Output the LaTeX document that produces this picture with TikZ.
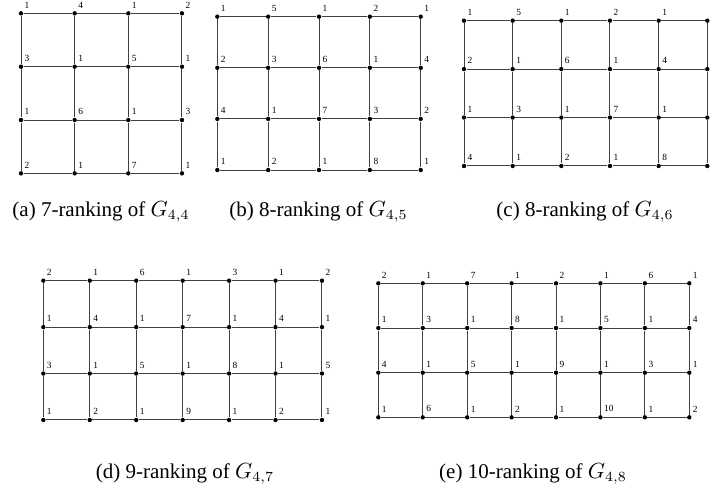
\documentclass[tikz,border=0pt]{standalone}
\usepackage{fontspec}
\setmainfont{Liberation Serif}
\usetikzlibrary{positioning}
\tikzset{
  vertice/.style={circle, fill=black, inner sep=0pt, minimum size=2.2pt},
  rotulo/.style={font=\fontsize{4.7}{5}\selectfont, inner sep=0.5pt, xshift=0.2pt, yshift=1pt},
  aresta/.style={black!75, line width=0.5pt},
  legenda/.style={font=\fontsize{10.5}{12}\selectfont, anchor=base},
}

\begin{document}
\begin{tikzpicture}
\useasboundingbox (0,0) rectangle (355.5pt,-243.5pt);

\begin{scope}[shift={(10.5pt,-6.67pt)}, x=26.83pt, y=-26.67pt]
  \foreach \linha [count=\r] in {{1,4,1,2},{3,1,5,1},{1,6,1,3},{2,1,7,1}}
    \foreach \rot [count=\c] in \linha
      \node[vertice, label={[rotulo]above right:\rot}] (a-\r-\c) at (\c-1,\r-1) {};
  \foreach \r in {1,...,4}
    \foreach \c [count=\cc from 2] in {1,...,3}
      \draw[aresta] (a-\r-\c) -- (a-\r-\cc);
  \foreach \r [count=\rr from 2] in {1,...,3}
    \foreach \c in {1,...,4}
      \draw[aresta] (a-\r-\c) -- (a-\rr-\c);
\end{scope}

\begin{scope}[shift={(108.67pt,-8.33pt)}, x=25.42pt, y=-25.56pt]
  \foreach \linha [count=\r] in {{1,5,1,2,1},{2,3,6,1,4},{4,1,7,3,2},{1,2,1,8,1}}
    \foreach \rot [count=\c] in \linha
      \node[vertice, label={[rotulo]above right:\rot}] (b-\r-\c) at (\c-1,\r-1) {};
  \foreach \r in {1,...,4}
    \foreach \c [count=\cc from 2] in {1,...,4}
      \draw[aresta] (b-\r-\c) -- (b-\r-\cc);
  \foreach \r [count=\rr from 2] in {1,...,3}
    \foreach \c in {1,...,5}
      \draw[aresta] (b-\r-\c) -- (b-\rr-\c);
\end{scope}

\begin{scope}[shift={(232pt,-10.33pt)}, x=24.33pt, y=-24.22pt]
  \foreach \linha [count=\r] in {{1,5,1,2,1,{}},{2,1,6,1,4,{}},{1,3,1,7,1,{}},{4,1,2,1,8,{}}}
    \foreach \rot [count=\c] in \linha
      \node[vertice, label={[rotulo]above right:\rot}] (c-\r-\c) at (\c-1,\r-1) {};
  \foreach \r in {1,...,4}
    \foreach \c [count=\cc from 2] in {1,...,5}
      \draw[aresta] (c-\r-\c) -- (c-\r-\cc);
  \foreach \r [count=\rr from 2] in {1,...,3}
    \foreach \c in {1,...,6}
      \draw[aresta] (c-\r-\c) -- (c-\rr-\c);
\end{scope}

\begin{scope}[shift={(21.67pt,-140.33pt)}, x=23.22pt, y=-23.22pt]
  \foreach \linha [count=\r] in {{2,1,6,1,3,1,2},{1,4,1,7,1,4,1},{3,1,5,1,8,1,5},{1,2,1,9,1,2,1}}
    \foreach \rot [count=\c] in \linha
      \node[vertice, label={[rotulo]above right:\rot}] (d-\r-\c) at (\c-1,\r-1) {};
  \foreach \r in {1,...,4}
    \foreach \c [count=\cc from 2] in {1,...,6}
      \draw[aresta] (d-\r-\c) -- (d-\r-\cc);
  \foreach \r [count=\rr from 2] in {1,...,3}
    \foreach \c in {1,...,7}
      \draw[aresta] (d-\r-\c) -- (d-\rr-\c);
\end{scope}

\begin{scope}[shift={(189.17pt,-141.67pt)}, x=22.21pt, y=-22.33pt]
  \foreach \linha [count=\r] in {{2,1,7,1,2,1,6,1},{1,3,1,8,1,5,1,4},{4,1,5,1,9,1,3,1},{1,6,1,2,1,10,1,2}}
    \foreach \rot [count=\c] in \linha
      \node[vertice, label={[rotulo]above right:\rot}] (e-\r-\c) at (\c-1,\r-1) {};
  \foreach \r in {1,...,4}
    \foreach \c [count=\cc from 2] in {1,...,7}
      \draw[aresta] (e-\r-\c) -- (e-\r-\cc);
  \foreach \r [count=\rr from 2] in {1,...,3}
    \foreach \c in {1,...,8}
      \draw[aresta] (e-\r-\c) -- (e-\rr-\c);
\end{scope}

\node[legenda] (legA) at (50.5pt,-108pt) {(a) 7-ranking of $G_{4,4}$};
\node[legenda] (legB) at (159.25pt,-108pt) {(b) 8-ranking of $G_{4,5}$};
\node[legenda] (legC) at (292.5pt,-108pt) {(c) 8-ranking of $G_{4,6}$};
\node[legenda] (legD) at (92.5pt,-239pt) {(d) 9-ranking of $G_{4,7}$};
\node[legenda] (legE) at (266.5pt,-239pt) {(e) 10-ranking of $G_{4,8}$};

\end{tikzpicture}
\end{document}
